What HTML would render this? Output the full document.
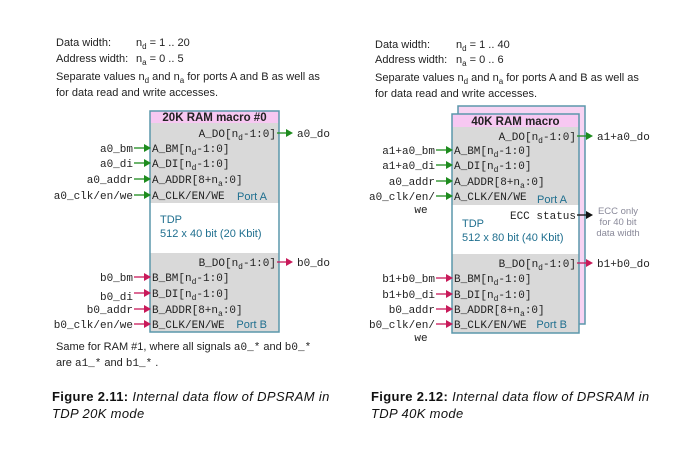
<!DOCTYPE html>
<html><head><meta charset="utf-8">
<style>
html,body{margin:0;padding:0;background:#fff;}
svg{display:block;}
.sans{font-family:"Liberation Sans",sans-serif;}
.mono{font-family:"Liberation Mono",monospace;font-size:11px;}
</style></head>
<body>
<svg id="fig" width="688" height="449" viewBox="0 0 688 449" xmlns="http://www.w3.org/2000/svg">
<g class="sans" font-size="11" fill="#222">
<text x="56" y="46">Data width:</text><text x="136" y="46">n<tspan font-size="8" dy="3">d</tspan><tspan dy="-3"> = 1 .. 20</tspan></text>
<text x="56" y="62">Address width:</text><text x="136" y="62">n<tspan font-size="8" dy="3">a</tspan><tspan dy="-3"> = 0 .. 5</tspan></text>
<text x="56" y="80">Separate values n<tspan font-size="8" dy="3">d</tspan><tspan dy="-3"> and n</tspan><tspan font-size="8" dy="3">a</tspan><tspan dy="-3"> for ports A and B as well as</tspan></text>
<text x="56" y="96">for data read and write accesses.</text>
</g>
<g class="sans" font-size="11" fill="#222">
<text x="375" y="48">Data width:</text><text x="456" y="48">n<tspan font-size="8" dy="3">d</tspan><tspan dy="-3"> = 1 .. 40</tspan></text>
<text x="375" y="63">Address width:</text><text x="456" y="63">n<tspan font-size="8" dy="3">a</tspan><tspan dy="-3"> = 0 .. 6</tspan></text>
<text x="375" y="81">Separate values n<tspan font-size="8" dy="3">d</tspan><tspan dy="-3"> and n</tspan><tspan font-size="8" dy="3">a</tspan><tspan dy="-3"> for ports A and B as well as</tspan></text>
<text x="375" y="97">for data read and write accesses.</text>
</g>
<g class="sans" font-size="11" fill="#222">
<text x="56" y="350">Same for RAM #1, where all signals  <tspan class="mono" font-size="10.5">a0_*</tspan>  and  <tspan class="mono" font-size="10.5">b0_*</tspan></text>
<text x="56" y="366">are  <tspan class="mono" font-size="10.5">a1_*</tspan>  and  <tspan class="mono" font-size="10.5">b1_*</tspan> .</text>
</g>
<g class="sans" font-size="13" fill="#111" letter-spacing="0.35">
<text x="52" y="401"><tspan font-weight="bold">Figure 2.11:</tspan><tspan font-style="italic"> Internal data flow of DPSRAM in</tspan></text>
<text x="52" y="418" font-style="italic">TDP 20K mode</text>
</g>
<g class="sans" font-size="13" fill="#111" letter-spacing="0.35">
<text x="371" y="401"><tspan font-weight="bold">Figure 2.12:</tspan><tspan font-style="italic"> Internal data flow of DPSRAM in</tspan></text>
<text x="371" y="418" font-style="italic">TDP 40K mode</text>
</g>
<g id="left"></g>
<g id="right"></g>
</svg>
<script>
const NS="http://www.w3.org/2000/svg";
const G="#1e8c1e", M="#c81a5a", K="#111", TEAL="#1f6f8f", BORDER="#5b97ab";
function el(p,tag,attrs){const e=document.createElementNS(NS,tag);for(const k in attrs)e.setAttribute(k,attrs[k]);p.appendChild(e);return e;}
function sub(s){return s.replace(/n_(d|a)/g,'n<tspan font-size="8" dy="3">$1</tspan><tspan dy="-3">');}
function monoText(p,x,y,s,anchor,name,fill){
  const t=el(p,"text",{x:x,y:y,"text-anchor":anchor||"start",class:"mono",fill:fill||"#222"});
  t.innerHTML=sub(s).replace(/<tspan dy="-3">(.*)$/,'<tspan dy="-3">$1</tspan>');
  
  
  return t;
}
function arrow(p,x1,x2,y,c,name){
  const g=el(p,"g",{});
  
  
  el(g,"line",{x1:x1,y1:y,x2:x2-6,y2:y,stroke:c,"stroke-width":1.3});
  el(g,"polygon",{points:(x2-7)+","+(y-4)+" "+x2+","+y+" "+(x2-7)+","+(y+4),fill:c});
}
function box(gid,o){
  const p=document.getElementById(gid);
  if(o.back){const b=el(p,"rect",{x:o.back[0],y:o.back[1],width:o.back[2],height:o.back[3],fill:"#f7d4f3",stroke:BORDER,"stroke-width":1.5});
    
    }
  const W=o.x2-o.x1;
  let r=el(p,"rect",{x:o.x1,y:o.top,width:W,height:o.pink-o.top,fill:"#f7c8f2"});
  
  
  r=el(p,"rect",{x:o.x1,y:o.pink,width:W,height:o.aEnd-o.pink,fill:"#d9d9d9"});
  
  
  r=el(p,"rect",{x:o.x1,y:o.aEnd,width:W,height:o.bStart-o.aEnd,fill:"#fff"});
  
  
  r=el(p,"rect",{x:o.x1,y:o.bStart,width:W,height:o.bottom-o.bStart,fill:"#d9d9d9"});
  
  
  r=el(p,"rect",{x:o.x1,y:o.top,width:W,height:o.bottom-o.top,fill:"none",stroke:BORDER,"stroke-width":1.5});
  
  
  let t=el(p,"text",{x:(o.x1+o.x2)/2,y:o.pink-2,"text-anchor":"middle",class:"sans","font-size":"11.5","font-weight":"bold",fill:"#222"});
  t.textContent=o.title;
  
  
  o.outs.forEach(q=>{
    monoText(p,o.x2-3,q.y+4,q.port,"end",q.port.toLowerCase().replace(/\W+/g,'-')+"-port");
    arrow(p,o.x2-2,o.x2+14,q.y,q.c,(q.sig||"ecc-status").replace(/\W+/g,'-')+"-arrow");
    monoText(p,o.x2+18,q.y+4,q.sig,"start",(q.sig||"ecc").replace(/\W+/g,'-')+"-label");
  });
  o.ins.forEach(q=>{
    monoText(p,o.x1+2,q.y+4,q.port,"start",q.port.toLowerCase().replace(/\W+/g,'-')+"-port");
    arrow(p,o.x1-16,o.x1+1,q.y,q.c,q.sig.replace(/\W+/g,'-')+"-arrow");
    monoText(p,o.x1-17,q.y+(q.dy||4),q.sig,"end",q.sig.replace(/\W+/g,'-')+"-label");
    if(q.wrap) monoText(p,o.x1-31,q.y+17,q.wrap,"middle","signal-wrap");
  });
  t=el(p,"text",{x:o.x2-12,y:o.portA,"text-anchor":"end",class:"sans","font-size":"11",fill:TEAL});
  t.textContent="Port A";
  
  
  t=el(p,"text",{x:o.x2-12,y:o.portB,"text-anchor":"end",class:"sans","font-size":"11",fill:TEAL});
  t.textContent="Port B";
  
  
  t=el(p,"text",{x:o.x1+10,y:o.tdp,class:"sans","font-size":"11",fill:TEAL});
  t.textContent="TDP";
  
  
  t=el(p,"text",{x:o.x1+10,y:o.tdp+14,class:"sans","font-size":"11",fill:TEAL});
  t.textContent=o.cap;
  
  
}
box("left",{x1:150,x2:279,top:111,pink:123,aEnd:203,bStart:253,bottom:332,title:"20K RAM macro #0",
  portA:200,portB:328,tdp:223,cap:"512 x 40 bit  (20 Kbit)",
  outs:[{y:133,port:"A_DO[n_d-1:0]",sig:"a0_do",c:G},{y:262,port:"B_DO[n_d-1:0]",sig:"b0_do",c:M}],
  ins:[{y:148,port:"A_BM[n_d-1:0]",sig:"a0_bm",c:G},{y:163,port:"A_DI[n_d-1:0]",sig:"a0_di",c:G},
       {y:179,port:"A_ADDR[8+n_a:0]",sig:"a0_addr",c:G},{y:195,port:"A_CLK/EN/WE",sig:"a0_clk/en/we",c:G},
       {y:277,port:"B_BM[n_d-1:0]",sig:"b0_bm",c:M},{y:293,port:"B_DI[n_d-1:0]",sig:"b0_di",c:M,dy:7},
       {y:309,port:"B_ADDR[8+n_a:0]",sig:"b0_addr",c:M},{y:324,port:"B_CLK/EN/WE",sig:"b0_clk/en/we",c:M}]});
box("right",{x1:452,x2:579,top:114,pink:127,aEnd:205,bStart:254,bottom:333,back:[458,106,127,218],title:"40K RAM macro",
  portA:203,portB:328,tdp:227,cap:"512 x 80 bit (40 Kbit)",
  outs:[{y:136,port:"A_DO[n_d-1:0]",sig:"a1+a0_do",c:G},{y:263,port:"B_DO[n_d-1:0]",sig:"b1+b0_do",c:M},
        {y:215,port:"ECC status",sig:"",c:K}],
  ins:[{y:150,port:"A_BM[n_d-1:0]",sig:"a1+a0_bm",c:G},{y:165,port:"A_DI[n_d-1:0]",sig:"a1+a0_di",c:G},
       {y:181,port:"A_ADDR[8+n_a:0]",sig:"a0_addr",c:G},{y:196,port:"A_CLK/EN/WE",sig:"a0_clk/en/",c:G,wrap:"we"},
       {y:278,port:"B_BM[n_d-1:0]",sig:"b1+b0_bm",c:M},{y:294,port:"B_DI[n_d-1:0]",sig:"b1+b0_di",c:M},
       {y:309,port:"B_ADDR[8+n_a:0]",sig:"b0_addr",c:M},{y:324,port:"B_CLK/EN/WE",sig:"b0_clk/en/",c:M,wrap:"we"}]});
const rp=document.getElementById("right");
[["ECC only",214],["for 40 bit",225],["data width",236]].forEach((a,i)=>{
  const t=el(rp,"text",{x:618,y:a[1],"text-anchor":"middle",class:"sans","font-size":"9.5",fill:"#8a8a9a"});
  t.textContent=a[0];
  
  
});
</script>
</body></html>
